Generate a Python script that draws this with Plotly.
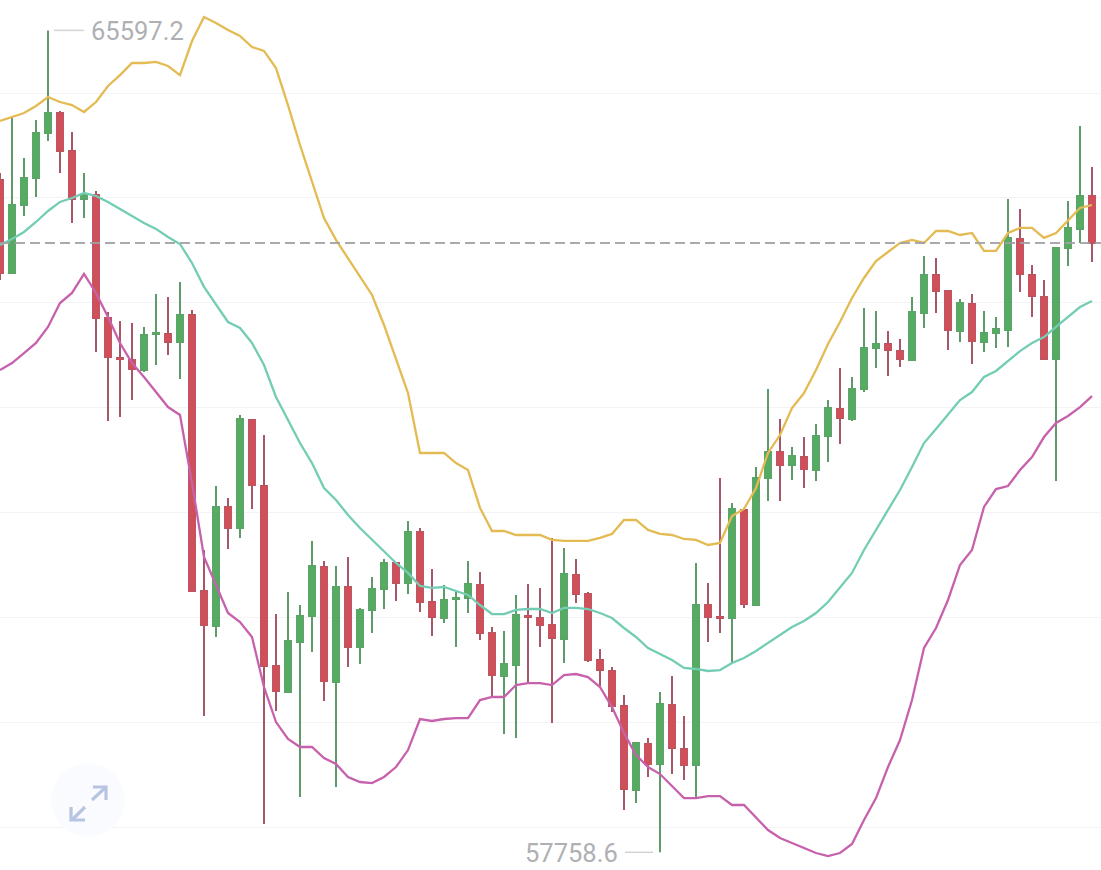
import plotly.graph_objects as go

# Candle prices, oldest first
opens = [64170,63284,63932,64189,64618,64809,64447,63990,64027,62854,62473,62454,62358,62702,62702,62625,
         62883,60251,59917,61052,60852,61881,61252,59536,59288,59764,60012,60480,59383,60289,59717,60070,
         60270,60518,60327,60814,60146,59993,60175,60184,60308,59850,59440,59545,60012,59993,59927,59793,
         60404,60222,59593,59488,59154,58353,58792,58601,59163,58744,58591,60117,60003,59993,61024,60117,
         61328,61576,61452,61528,61404,61729,61986,61891,62177,62568,62606,62539,62454,62902,63265,63112,
         62730,62988,62625,62711,62740,63608,63265,63055,62463,63522,63704,64018]
highs = [64237,64771,64380,64742,65597.2,64828,64628,64237,64065,62912,62826,62807,62769,63084,63055,63198,
         62931,60642,61252,61137,61929,61891,61738,60031,60241,60117,60728,60537,60490,60575,60089,60385,
         60556,60528,60919,60852,60461,60308,60241,60537,60432,59907,59869,60213,60318,60280,60757,60661,
         60556,60241,59698,59526,59259,58810,58849,59288,59440,59058,60518,60327,61328,61090,61043,61433,
         62177,61891,61624,61719,61843,62072,62377,62292,62950,62921,62730,62654,63055,63446,63427,63122,
         63036,63084,62921,62864,63990,63894,63360,63217,63522,63970,64685,64294]
lows = [63217,63284,63827,64008,64542,64237,63761,63808,62530,61872,61910,62072,62339,62406,62501,62273,
        60241,59058,59812,60652,60757,61033,58028,59106,59288,58286,59669,59201,58381,59526,59555,59850,
        60079,60155,60222,60051,59822,59946,59717,60041,59784,59240,58887,58849,59373,59717,58992,59564,
        60136,59574,59345,59097,58162,58229,58477,57758.6,58505,58448,58286,59764,59850,59564,60089,60117,
        61109,61109,61309,61233,61300,61481,61652,61872,62148,62377,62301,62387,62454,62759,62902,62549,
        62625,62416,62530,62568,62578,63102,62864,62463,61300,63351,63570,63389]
closes = [63284,63932,64189,64618,64809,64447,63990,64027,62854,62482,62463,62368,62692,62711,62625,62883,
          60251,59927,61052,60852,61891,61261,59536,59297,59774,60012,60490,59393,60289,59717,60070,60270,
          60518,60327,60814,60146,60003,60165,60184,60318,59850,59449,59555,60022,60003,59927,59803,60413,
          60222,59593,59497,59154,58362,58801,58601,59173,58753,58591,60117,60003,59993,61033,60127,61328,
          61576,61452,61538,61414,61729,61996,61900,62177,62568,62606,62549,62463,62912,63265,63112,62740,
          62997,62635,62711,62749,63618,63274,63064,62463,63522,63713,64018,63570]

# Bollinger bands
upper = [64733,64771,64809,64876,64962,64914,64885,64819,64914,65067,65171,65286,65286,65296,65258,65171,
         65496,65725,65668,65601,65544,65439,65401,65238,64885,64504,64151,63808,63599,63427,63246,63074,
         62788,62473,62139,61567,61567,61567,61471,61404,61043,60823,60823,60785,60785,60785,60738,60728,
         60728,60728,60757,60795,60928,60928,60833,60795,60785,60747,60738,60690,60709,60966,61033,61233,
         61567,61738,61996,62139,62358,62606,62816,63045,63236,63398,63484,63570,63599,63570,63684,63684,
         63646,63665,63494,63494,63665,63713,63713,63618,63665,63780,63904,63932]
middle = [63551,63608,63675,63770,63875,63961,63999,64046,64018,63961,63894,63827,63761,63704,63627,63560,
          63379,63151,62988,62816,62759,62616,62406,62101,61881,61662,61471,61233,61119,60976,60852,60738,
          60623,60518,60423,60299,60280,60289,60251,60213,60117,60031,60031,60070,60079,60079,60041,60089,
          60089,60079,60041,59993,59898,59812,59707,59650,59593,59517,59507,59488,59497,59564,59612,59679,
          59755,59831,59907,59965,60041,60146,60280,60423,60642,60833,61024,61214,61433,61662,61795,61929,
          62072,62148,62292,62349,62444,62539,62616,62673,62769,62864,62959,63016]
lower = [62358,62425,62520,62616,62769,62997,63093,63274,63093,62864,62616,62425,62292,62148,62005,61929,
         61281,60575,60308,60041,59955,59812,59335,59001,58839,58763,58763,58658,58601,58477,58429,58419,
         58477,58572,58734,59030,59011,59030,59039,59039,59211,59240,59240,59354,59373,59373,59354,59449,
         59459,59430,59335,59144,58896,58687,58572,58505,58391,58276,58276,58295,58295,58210,58210,58086,
         57971,57895,57847,57800,57752,57723,57752,57838,58067,58276,58572,58830,59211,59707,59898,60165,
         60499,60642,61052,61223,61252,61404,61528,61719,61853,61920,62005,62110]

GREEN_BODY, GREEN_WICK = "#55ab62", "#5f9a6a"
RED_BODY, RED_WICK = "#d14f58", "#a85768"
W, H = 1101, 870
xs = list(range(len(closes)))
body_top = [max(o, c) for o, c in zip(opens, closes)]
body_bottom = [min(o, c) for o, c in zip(opens, closes)]
hi_idx = highs.index(max(highs))
lo_idx = lows.index(min(lows))

fig = go.Figure()

# Thin wicks underneath, solid bodies on top
fig.add_trace(go.Candlestick(
    x=xs, open=opens, high=highs, low=lows, close=closes, whiskerwidth=0,
    increasing=dict(line=dict(color=GREEN_WICK, width=2), fillcolor=GREEN_WICK),
    decreasing=dict(line=dict(color=RED_WICK, width=2), fillcolor=RED_WICK),
    hoverinfo="skip", showlegend=False))
fig.add_trace(go.Candlestick(
    x=xs, open=opens, high=body_top, low=body_bottom, close=closes, whiskerwidth=0,
    increasing=dict(line=dict(color=GREEN_BODY, width=1), fillcolor=GREEN_BODY),
    decreasing=dict(line=dict(color=RED_BODY, width=1), fillcolor=RED_BODY),
    hoverinfo="skip", showlegend=False))

for band, colour in ((upper, "#e4bb52"), (middle, "#73cdb5"), (lower, "#c761ac")):
    fig.add_trace(go.Scatter(x=xs, y=band, mode="lines", showlegend=False, hoverinfo="skip",
                             line=dict(color=colour, width=2.3)))


def px(x):
    return x / W


def py(y):
    return 1 - y / H


def paper_path(points):
    return "M" + " L".join(f"{px(a):.5f},{py(b):.5f}" for a, b in points)


shapes = [
    # last price
    dict(type="line", xref="paper", x0=0, x1=1, yref="y", y0=closes[-1], y1=closes[-1], layer="above",
         line=dict(color="rgba(160,160,165,0.9)", width=2, dash="10px,5px")),
    # leaders from the extreme wicks to their labels
    dict(type="line", xref="x", xsizemode="pixel", xanchor=hi_idx, x0=6, x1=36,
         yref="y", y0=highs[hi_idx], y1=highs[hi_idx], line=dict(color="#d2d3d6", width=1.5)),
    dict(type="line", xref="x", xsizemode="pixel", xanchor=lo_idx, x0=-35, x1=-7,
         yref="y", y0=lows[lo_idx], y1=lows[lo_idx], line=dict(color="#d2d3d6", width=1.5)),
    # expand button
    dict(type="circle", xref="paper", yref="paper", x0=px(51), x1=px(125), y0=py(837), y1=py(763),
         fillcolor="#fafbfe", line=dict(width=0), layer="above"),
]
for stroke in (
    [(92, 800), (106, 787)],
    [(93, 787), (106, 787), (106, 800)],
    [(85, 807), (72, 820)],
    [(71, 807), (71, 820), (85, 820)],
):
    shapes.append(dict(type="path", xref="paper", yref="paper", path=paper_path(stroke),
                       line=dict(color="#b7c4e2", width=3.2), layer="above"))

label_font = dict(family="Roboto, sans-serif", size=25.5, color="#aeb0b4")
annotations = [
    dict(x=hi_idx, y=highs[hi_idx], xref="x", yref="y", text=f"{highs[hi_idx]:.1f}", showarrow=False,
         xanchor="left", yanchor="middle", xshift=41, yshift=-1, font=label_font),
    dict(x=lo_idx, y=lows[lo_idx], xref="x", yref="y", text=f"{lows[lo_idx]:.1f}", showarrow=False,
         xanchor="right", yanchor="middle", xshift=-40, yshift=-1, font=label_font),
]

fig.update_layout(
    width=W, height=H, margin=dict(l=0, r=0, t=0, b=0),
    paper_bgcolor="#ffffff", plot_bgcolor="#ffffff",
    xaxis=dict(range=[0, 91.75], visible=False, rangeslider=dict(visible=False), fixedrange=True),
    yaxis=dict(range=[57590, 65887], dtick=1000, tick0=58000, showgrid=True, gridcolor="#f3f3f5",
               gridwidth=1, zeroline=False, showline=False, showticklabels=False, ticks="", fixedrange=True),
    shapes=shapes, annotations=annotations,
)

fig.write_html("out.html", config=dict(displayModeBar=False))
